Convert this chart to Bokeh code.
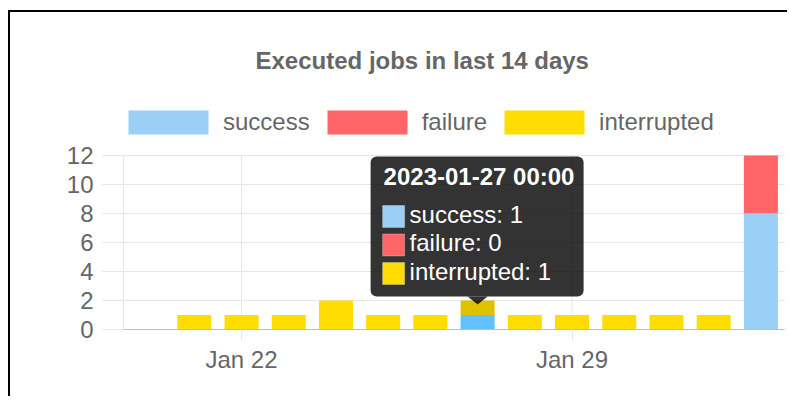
import numpy as np
import pandas as pd
from bokeh.plotting import figure
from bokeh.models import (ColumnDataSource, Legend, LegendItem, FixedTicker,
                          DatetimeTickFormatter, Range1d, BoxAnnotation,
                          PolyAnnotation, Label)
from bokeh.embed import file_html
from bokeh.resources import INLINE

# ---------------- data ----------------
dates = ["2023-01-20", "2023-01-21", "2023-01-22", "2023-01-23", "2023-01-24",
         "2023-01-25", "2023-01-26", "2023-01-27", "2023-01-28", "2023-01-29",
         "2023-01-30", "2023-01-31", "2023-02-01", "2023-02-02"]
success = [0, 0, 0, 0, 0, 0, 0, 1, 0, 0, 0, 0, 0, 8]
failure = [0, 0, 0, 0, 0, 0, 0, 0, 0, 0, 0, 0, 0, 4]
interrupted = [0, 1, 1, 1, 2, 1, 1, 1, 1, 1, 1, 1, 1, 0]
series_names = ["success", "failure", "interrupted"]
series_colors = ["#9AD0F5", "#FF6467", "#FFDD00"]
hover_colors = ["#62C0FF", "#FF3A44", "#DEC200"]
x_tick_dates = ["2023-01-22", "2023-01-29"]
y_ticks = [0, 2, 4, 6, 8, 10, 12]
hover_index = 7
tooltip_title = "2023-01-27 00:00"

FONT = "Liberation Sans"
DAY = 86400000.0

x = pd.to_datetime(dates)
x_ms = (x.astype("int64") // 10**6).to_numpy().astype(float)

# layout (pixels): plot area 661 x 174 for the 0..12 scale, 55 px of legend room above
W, H = 779, 386
ML, MR, MT = 113, 5, 88
FRAME_W = 661
SCALE_H = 174          # pixels for 0..12
LEGEND_ROOM = 55       # frame area above the 12 line
FRAME_H = SCALE_H + LEGEND_ROOM
MB = H - MT - FRAME_H
y_max_tick = y_ticks[-1]
y_top = y_max_tick * FRAME_H / SCALE_H

x0 = x_ms[0] - DAY / 2
x1 = x_ms[-1] + DAY / 2
ms_per_px = (x1 - x0) / FRAME_W
u_per_px = y_max_tick / SCALE_H

p = figure(width=W, height=H,
           x_axis_type="datetime", output_backend="svg", toolbar_location=None,
           x_range=Range1d(x0, x1), y_range=Range1d(0, y_top),
           min_border_left=ML, min_border_right=MR, min_border_top=MT,
           min_border_bottom=MB)
p.styles = {"margin-left": "8px", "margin-top": "10px",
            "border-left": "2px solid #000", "border-top": "2px solid #000"}
p.outline_line_color = None

GRID = "#e6e6e6"
tick_ms = [float(v) for v in (pd.to_datetime(x_tick_dates).astype("int64") // 10**6)]

# vertical grid lines only over the 0..12 scale
p.segment(x0=tick_ms, y0=[0] * len(tick_ms), x1=tick_ms,
          y1=[y_max_tick] * len(tick_ms), line_color=GRID, line_width=1)

# ---------------- bars ----------------
vals = np.array([success, failure, interrupted], dtype=float)
bottoms = np.vstack([np.zeros(len(dates)), np.cumsum(vals, axis=0)[:-1]])
tops = bottoms + vals
renderers = []
for i, name in enumerate(series_names):
    cols = [series_colors[i]] * len(dates)
    cols[hover_index] = hover_colors[i]
    src = ColumnDataSource(dict(x=x_ms, top=tops[i], bottom=bottoms[i], c=cols))
    r = p.vbar(x="x", top="top", bottom="bottom", width=DAY * 0.72, source=src,
               fill_color="c", line_color=None)
    renderers.append(r)

# ---------------- axes / grid ----------------
p.xaxis.ticker = FixedTicker(ticks=tick_ms)
p.xaxis.formatter = DatetimeTickFormatter(days="%b %d", months="%b %d")
p.xgrid.visible = False
p.xaxis.axis_line_color = "#bdbdbd"
p.xaxis.major_tick_line_color = GRID
p.xaxis.major_tick_out = 11
p.xaxis.major_tick_in = 0
p.xaxis.minor_tick_line_color = None
p.xaxis.major_label_standoff = 5

p.yaxis.ticker = FixedTicker(ticks=y_ticks)
p.ygrid.ticker = FixedTicker(ticks=y_ticks)
p.yaxis.bounds = (0, y_max_tick)
p.yaxis.axis_line_color = GRID
p.yaxis.major_tick_line_color = GRID
p.yaxis.major_tick_out = 21
p.yaxis.major_tick_in = 0
p.yaxis.minor_tick_line_color = None
p.yaxis.major_label_standoff = 9

for ax in (p.xaxis, p.yaxis):
    ax.major_label_text_font = FONT
    ax.major_label_text_font_size = "24px"
    ax.major_label_text_color = "#666666"
p.ygrid.grid_line_color = GRID

# ---------------- title ----------------
p.title.text = "Executed jobs in last 14 days"
p.title.text_font = FONT
p.title.text_font_size = "24px"
p.title.text_font_style = "bold"
p.title.text_color = "#666666"
p.title.align = "left"
p.title.offset = 132
p.title.standoff = 54

# ---------------- legend (in the room above the 12 line) ----------------
legend = Legend(items=[LegendItem(label=n, renderers=[r], index=0)
                       for n, r in zip(series_names, renderers)],
                orientation="horizontal", glyph_width=100, glyph_height=30,
                label_height=30, label_standoff=5, spacing=7, padding=0,
                margin=0, border_line_color=None, background_fill_alpha=0,
                label_text_font=FONT, label_text_font_size="24px",
                label_text_color="#666666", location=(-5, SCALE_H + 18))
p.add_layout(legend)

# ---------------- tooltip (hovered bar) ----------------
ax_ = x_ms[hover_index]
ay_ = tops[2][hover_index]
def px_x(dx):
    return ax_ + dx * ms_per_px
def px_y(dy):
    return ay_ + dy * u_per_px

p.add_layout(BoxAnnotation(left=px_x(-107), right=px_x(106), bottom=px_y(4),
                           top=px_y(144), fill_color="black", fill_alpha=0.8,
                           line_color=None, border_radius=6))
p.add_layout(PolyAnnotation(xs=[px_x(-10), px_x(10), px_x(0)],
                            ys=[px_y(4), px_y(4), px_y(-4)],
                            fill_color="black", fill_alpha=0.8, line_color=None))
p.add_layout(Label(x=px_x(-94), y=px_y(124), text=tooltip_title,
                   text_font=FONT, text_font_size="24px", text_font_style="bold",
                   text_color="white", text_baseline="alphabetic"))
for i, name in enumerate(series_names):
    v = int(vals[i][hover_index])
    top_px = 95 - i * 28.5
    p.add_layout(BoxAnnotation(left=px_x(-95), right=px_x(-73),
                               bottom=px_y(top_px - 22), top=px_y(top_px),
                               fill_color=series_colors[i], fill_alpha=1,
                               line_color="#eeeeee", line_width=1))
    p.add_layout(Label(x=px_x(-68), y=px_y(86 - i * 28.3), text=f"{name}: {v}",
                       text_font=FONT, text_font_size="24px", text_color="white",
                       text_baseline="alphabetic"))

open("out.html", "w").write(file_html(p, INLINE))
